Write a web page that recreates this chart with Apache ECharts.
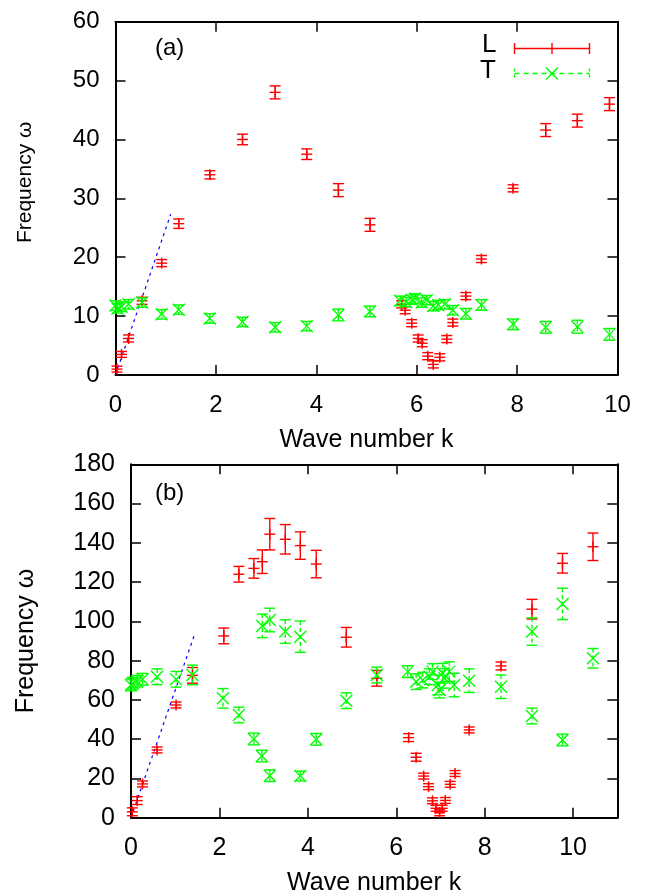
<!DOCTYPE html>
<html>
<head>
<meta charset="utf-8">
<script src="https://cdn.jsdelivr.net/npm/echarts@6/dist/echarts.min.js"></script>
<style>
html,body{margin:0;padding:0;background:#fff;}
#chart{width:652px;height:894px;}
</style>
</head>
<body>
<div id="chart"></div>
<script>
// ---- data: [wave number k, frequency ω, error] ----
const topL = [
  [0.03, 1.0, 0.5], [0.12, 3.5, 0.5], [0.26, 6.2, 0.6], [0.53, 12.6, 0.6],
  [0.92, 19.0, 0.6], [1.26, 25.7, 0.8], [1.88, 34.0, 0.7], [2.53, 40.0, 0.9],
  [3.18, 48.0, 1.1], [3.81, 37.5, 0.9], [4.44, 31.4, 1.1], [5.07, 25.5, 1.1],
  [5.70, 12.0, 0.6], [5.77, 11.0, 0.6], [5.90, 8.8, 0.6], [6.03, 6.2, 0.6],
  [6.11, 5.4, 0.6], [6.22, 3.2, 0.6], [6.33, 1.8, 0.6], [6.46, 3.0, 0.6],
  [6.60, 6.1, 0.6], [6.72, 8.9, 0.6], [6.98, 13.4, 0.6], [7.29, 19.7, 0.6],
  [7.92, 31.7, 0.6], [8.57, 41.6, 1.1], [9.20, 43.2, 1.1], [9.84, 46.0, 1.1]
];
const topT = [
  [0.00, 11.8, 0.8], [0.04, 11.3, 0.8], [0.12, 11.6, 0.8], [0.26, 12.0, 0.8],
  [0.53, 12.3, 0.8], [0.92, 10.3, 0.8], [1.26, 11.1, 0.8], [1.88, 9.6, 0.8],
  [2.53, 9.0, 0.8], [3.18, 8.1, 0.8], [3.81, 8.3, 0.8], [4.44, 10.2, 1.0],
  [5.07, 10.8, 0.9], [5.67, 12.6, 0.8], [5.79, 12.4, 0.8], [5.90, 12.8, 0.8],
  [5.97, 13.0, 0.8], [6.10, 12.3, 0.8], [6.20, 12.7, 0.8], [6.33, 11.7, 0.8],
  [6.43, 11.9, 0.8], [6.56, 12.0, 0.8], [6.72, 11.0, 0.8], [6.98, 10.4, 0.9],
  [7.29, 11.9, 0.9], [7.92, 8.6, 0.9], [8.57, 8.1, 1.0], [9.20, 8.2, 1.1],
  [9.84, 6.9, 1.0]
];
const botL = [
  [0.03, 3.0, 2], [0.14, 8.7, 2], [0.26, 17.2, 1.5], [0.59, 34.5, 1.5],
  [1.02, 57.4, 1.5], [1.39, 72.5, 4], [2.10, 92.6, 4], [2.44, 124.0, 4],
  [2.78, 127.0, 5], [2.97, 130.4, 6], [3.14, 144.4, 8], [3.49, 141.8, 7.5],
  [3.83, 138.6, 7], [4.19, 129.2, 7], [4.87, 91.9, 5], [5.56, 71.0, 4],
  [6.28, 40.8, 2], [6.45, 30.8, 2], [6.62, 21.2, 1.5], [6.73, 15.8, 1.5],
  [6.82, 8.6, 1.5], [6.90, 4.8, 1.5], [6.98, 2.5, 1.5], [7.04, 4.8, 1.5],
  [7.11, 8.8, 1.5], [7.22, 17.0, 1.5], [7.33, 22.5, 1.5], [7.65, 44.7, 1.5],
  [8.37, 77.3, 2], [9.07, 106.2, 5], [9.76, 129.6, 5], [10.45, 138.0, 7]
];
const botT = [
  [0.00, 67.6, 3], [0.04, 68.5, 3], [0.14, 69.5, 3], [0.26, 70.5, 3],
  [0.59, 71.8, 4], [1.02, 70.5, 4], [1.39, 72.7, 5], [2.08, 60.8, 5],
  [2.44, 52.3, 4], [2.78, 40.1, 3], [2.96, 31.4, 3], [3.14, 21.4, 3],
  [2.97, 97.7, 6], [3.14, 100.7, 6], [3.49, 94.8, 6], [3.83, 92.2, 8],
  [3.83, 21.2, 2.5], [4.19, 39.9, 3], [4.87, 59.6, 4], [5.56, 72.7, 4],
  [6.26, 74.4, 3], [6.45, 69.3, 4], [6.60, 70.1, 4], [6.75, 71.8, 4],
  [6.82, 74.4, 4], [6.94, 67.6, 5], [6.98, 65.0, 4], [7.05, 73.6, 5],
  [7.09, 71.0, 5], [7.20, 74.4, 5], [7.31, 67.6, 6], [7.65, 69.8, 6],
  [8.37, 66.7, 6], [9.07, 94.8, 7], [9.07, 51.8, 4], [9.76, 108.9, 8],
  [9.76, 39.6, 3], [10.45, 81.2, 5]
];
// linear (sound-velocity) guide lines
const topLine = [[0, 0], [1.10, 27.3]];
const botLine = [[0, 0], [1.44, 93.5]];

// axis settings
const topXTicks = {min: 0, max: 10, interval: 2};
const topYTicks = {min: 0, max: 60, interval: 10};
const botXTicks = {min: 0, max: 11, interval: 2};
const botYTicks = {min: 0, max: 180, interval: 20};

const RED = '#ff0000', GREEN = '#00ff00', BLUE = '#0000ff';
const FONT = 'Liberation Sans';

function errRender(kind) {
  return function (params, api) {
    const k = api.value(0), w = api.value(1), e = api.value(2);
    const c = api.coord([k, w]);
    const t = api.coord([k, w + e]);
    const b = api.coord([k, w - e]);
    const col = kind === 'L' ? RED : GREEN;
    const cap = 5.5;
    const base = {stroke: col, lineWidth: 1.4, fill: null};
    const barStyle = kind === 'L' ? base : Object.assign({}, base, {lineDash: [4, 3]});
    const ch = [
      {type: 'line', shape: {x1: c[0], y1: t[1], x2: c[0], y2: b[1]}, style: barStyle},
      {type: 'line', shape: {x1: c[0] - cap, y1: t[1], x2: c[0] + cap, y2: t[1]}, style: base},
      {type: 'line', shape: {x1: c[0] - cap, y1: b[1], x2: c[0] + cap, y2: b[1]}, style: base}
    ];
    if (kind === 'L') {
      const m = 5.5;
      ch.push({type: 'line', shape: {x1: c[0] - m, y1: c[1], x2: c[0] + m, y2: c[1]}, style: base});
      ch.push({type: 'line', shape: {x1: c[0], y1: c[1] - m, x2: c[0], y2: c[1] + m}, style: base});
    } else {
      const m = 6;
      ch.push({type: 'line', shape: {x1: c[0] - m, y1: c[1] - m, x2: c[0] + m, y2: c[1] + m}, style: base});
      ch.push({type: 'line', shape: {x1: c[0] - m, y1: c[1] + m, x2: c[0] + m, y2: c[1] - m}, style: base});
    }
    return {type: 'group', children: ch};
  };
}

const axisLine = {show: true, onZero: false, lineStyle: {color: '#000', width: 2}};
const tick = {show: true, inside: true, length: 10, lineStyle: {color: '#000', width: 1.5}};

function xAxes(grid, t, name, size, margin, gap) {
  return [
    Object.assign({type: 'value', gridIndex: grid, position: 'bottom', name: name,
      nameLocation: 'middle', nameGap: gap,
      nameTextStyle: {color: '#000', fontFamily: FONT, fontSize: 25},
      axisLine: axisLine, axisTick: tick, splitLine: {show: false},
      axisLabel: {margin: margin, showMaxLabel: t.max % t.interval === 0,
        color: '#000', fontFamily: FONT, fontSize: size}}, t),
    Object.assign({type: 'value', gridIndex: grid, position: 'top',
      axisLine: axisLine, axisTick: tick, splitLine: {show: false},
      axisLabel: {show: false}}, t)
  ];
}
function yAxes(grid, t, labelSize, gap, size, pad) {
  return [
    Object.assign({type: 'value', gridIndex: grid, position: 'left', name: 'Frequency ω',
      nameLocation: 'middle', nameGap: gap,
      nameTextStyle: {color: '#000', fontFamily: FONT, fontSize: size, padding: pad},
      axisLine: axisLine, axisTick: tick, splitLine: {show: false},
      axisLabel: {margin: 16, color: '#000', fontFamily: FONT, fontSize: labelSize}}, t),
    Object.assign({type: 'value', gridIndex: grid, position: 'right',
      axisLine: axisLine, axisTick: tick, splitLine: {show: false},
      axisLabel: {show: false}}, t)
  ];
}

const chart = echarts.init(document.getElementById('chart'), null, {renderer: 'canvas'});

const legendBase = {stroke: RED, lineWidth: 1.4, fill: null};
const legendT = {stroke: GREEN, lineWidth: 1.4, fill: null};

chart.setOption({
  animation: false,
  backgroundColor: '#fff',
  grid: [
    {left: 115.5, right: 34.5, top: 21.7, height: 353.3, containLabel: false, outerBoundsMode: 'none'},
    {left: 131, right: 34.7, top: 464.3, height: 353.4, containLabel: false, outerBoundsMode: 'none'}
  ],
  xAxis: xAxes(0, topXTicks, 'Wave number k', 24, 18, 53)
    .concat(xAxes(1, botXTicks, 'Wave number k', 25, 18, 53)),
  yAxis: yAxes(0, topYTicks, 24, 80, 21, [0, 0, 0, 32])
    .concat(yAxes(1, botYTicks, 25, 92, 25, [0, 0, 0, 0])),
  graphic: [
    {type: 'text', left: 155, top: 36, style: {text: '(a)', fontFamily: FONT, fontSize: 24, fill: '#000'}},
    {type: 'text', left: 155, top: 481, style: {text: '(b)', fontFamily: FONT, fontSize: 24, fill: '#000'}},
    {type: 'text', left: 482, top: 32, style: {text: 'L', fontFamily: FONT, fontSize: 26, fill: '#000'}},
    {type: 'text', left: 480, top: 58, style: {text: 'T', fontFamily: FONT, fontSize: 26, fill: '#000'}},
    {type: 'group', left: 512, top: 40.5, children: [
      {type: 'line', shape: {x1: 0, y1: 5.5, x2: 75, y2: 5.5}, style: legendBase},
      {type: 'line', shape: {x1: 0, y1: 0, x2: 0, y2: 11}, style: legendBase},
      {type: 'line', shape: {x1: 75, y1: 0, x2: 75, y2: 11}, style: legendBase},
      {type: 'line', shape: {x1: 37.5, y1: 0, x2: 37.5, y2: 11}, style: legendBase}
    ]},
    {type: 'group', left: 512, top: 65, children: [
      {type: 'line', shape: {x1: 0, y1: 6, x2: 75, y2: 6}, style: Object.assign({lineDash: [5, 4]}, legendT)},
      {type: 'line', shape: {x1: 0, y1: 1, x2: 0, y2: 11}, style: Object.assign({lineDash: [3, 3]}, legendT)},
      {type: 'line', shape: {x1: 75, y1: 1, x2: 75, y2: 11}, style: Object.assign({lineDash: [3, 3]}, legendT)},
      {type: 'line', shape: {x1: 31.5, y1: 0, x2: 43.5, y2: 12}, style: legendT},
      {type: 'line', shape: {x1: 31.5, y1: 12, x2: 43.5, y2: 0}, style: legendT}
    ]}
  ],
  series: [
    {type: 'line', xAxisIndex: 0, yAxisIndex: 0, data: topLine, symbol: 'none', z: 1,
      lineStyle: {color: BLUE, width: 1.2, type: [3, 4]}},
    {type: 'line', xAxisIndex: 2, yAxisIndex: 2, data: botLine, symbol: 'none', z: 1,
      lineStyle: {color: BLUE, width: 1.2, type: [3, 4]}},
    {type: 'custom', name: 'L', xAxisIndex: 0, yAxisIndex: 0, data: topL, renderItem: errRender('L'),
      encode: {x: 0, y: 1}, z: 2},
    {type: 'custom', name: 'T', xAxisIndex: 0, yAxisIndex: 0, data: topT, renderItem: errRender('T'),
      encode: {x: 0, y: 1}, z: 3},
    {type: 'custom', name: 'L', xAxisIndex: 2, yAxisIndex: 2, data: botL, renderItem: errRender('L'),
      encode: {x: 0, y: 1}, z: 2},
    {type: 'custom', name: 'T', xAxisIndex: 2, yAxisIndex: 2, data: botT, renderItem: errRender('T'),
      encode: {x: 0, y: 1}, z: 3}
  ]
});
</script>
</body>
</html>
